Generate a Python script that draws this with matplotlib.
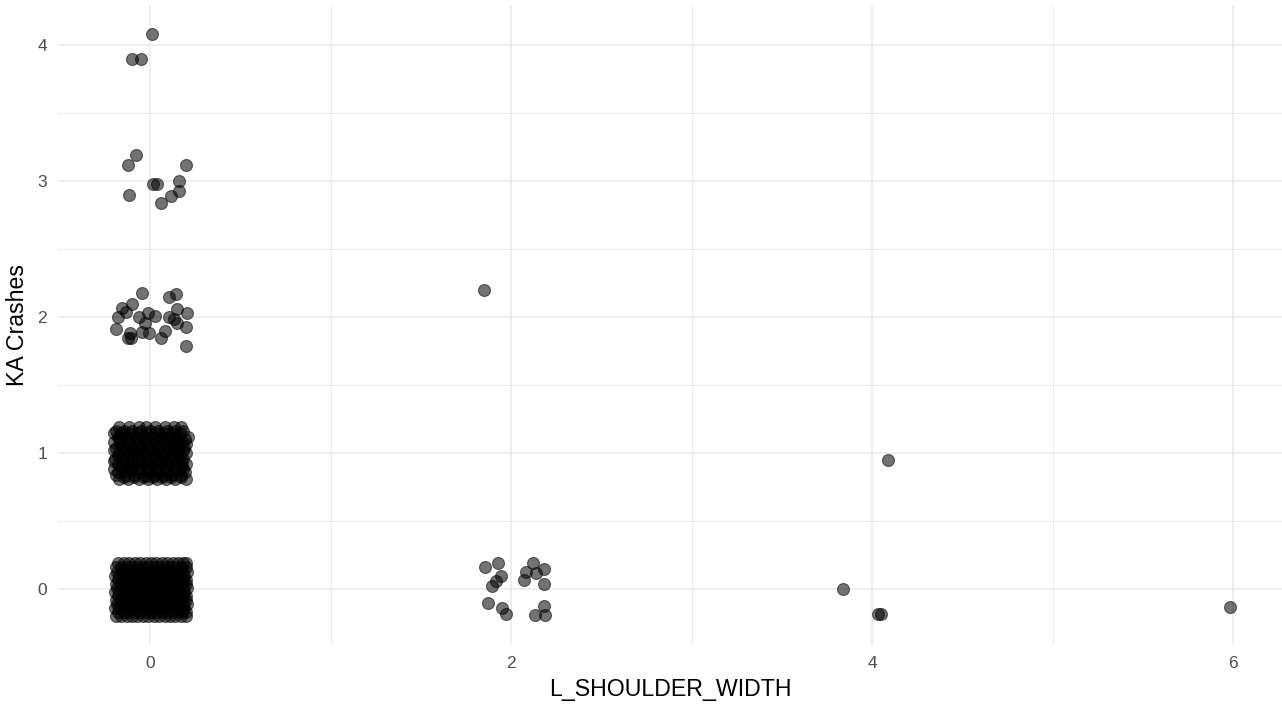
import matplotlib.pyplot as plt
from matplotlib.ticker import MultipleLocator

plt.rcParams['font.family'] = ['Liberation Sans', 'DejaVu Sans']

# jittered points (x = L_SHOULDER_WIDTH, y = KA crashes)
# dense block at x=0, y=0 : one row per y value
zero_rows = [
    (-0.195, [-0.19, -0.16, -0.13, -0.10, -0.07, -0.04, -0.01, 0.02, 0.05, 0.08, 0.11, 0.14, 0.17, 0.20]),
    (-0.17, [-0.18, -0.145, -0.115, -0.085, -0.055, -0.025, 0.005, 0.035, 0.065, 0.095, 0.125, 0.155, 0.185, 0.20]),
    (-0.14, [-0.195, -0.17, -0.14, -0.105, -0.075, -0.045, -0.015, 0.015, 0.04, 0.07, 0.10, 0.13, 0.16, 0.19]),
    (-0.11, [-0.185, -0.15, -0.12, -0.09, -0.06, -0.03, 0.0, 0.03, 0.06, 0.09, 0.12, 0.15, 0.18, 0.205]),
    (-0.08, [-0.19, -0.16, -0.13, -0.10, -0.07, -0.04, -0.01, 0.02, 0.05, 0.08, 0.11, 0.14, 0.17, 0.20]),
    (-0.05, [-0.18, -0.145, -0.115, -0.085, -0.055, -0.025, 0.005, 0.035, 0.065, 0.095, 0.125, 0.155, 0.185, 0.20]),
    (-0.02, [-0.195, -0.17, -0.14, -0.105, -0.075, -0.045, -0.015, 0.015, 0.04, 0.07, 0.10, 0.13, 0.16, 0.19]),
    (0.01, [-0.185, -0.15, -0.12, -0.09, -0.06, -0.03, 0.0, 0.03, 0.06, 0.09, 0.12, 0.15, 0.18, 0.205]),
    (0.04, [-0.19, -0.16, -0.13, -0.10, -0.07, -0.04, -0.01, 0.02, 0.05, 0.08, 0.11, 0.14, 0.17, 0.20]),
    (0.07, [-0.18, -0.145, -0.115, -0.085, -0.055, -0.025, 0.005, 0.035, 0.065, 0.095, 0.125, 0.155, 0.185, 0.20]),
    (0.10, [-0.195, -0.17, -0.14, -0.105, -0.075, -0.045, -0.015, 0.015, 0.04, 0.07, 0.10, 0.13, 0.16, 0.19]),
    (0.13, [-0.185, -0.15, -0.12, -0.09, -0.06, -0.03, 0.0, 0.03, 0.06, 0.09, 0.12, 0.15, 0.18, 0.205]),
    (0.16, [-0.19, -0.16, -0.13, -0.10, -0.07, -0.04, -0.01, 0.02, 0.05, 0.08, 0.11, 0.14, 0.17, 0.20]),
    (0.19, [-0.18, -0.145, -0.115, -0.085, -0.055, -0.025, 0.005, 0.035, 0.065, 0.095, 0.125, 0.155, 0.185, 0.20]),
]

# block at x=0, y=1
one_rows = [
    (0.81, [-0.17, -0.12, -0.06, -0.01, 0.04, 0.09, 0.14, 0.20]),
    (0.825, [-0.145, -0.09, -0.035, 0.015, 0.065, 0.115, 0.17]),
    (0.84, [-0.19, -0.14, -0.09, -0.03, 0.02, 0.07, 0.12, 0.17]),
    (0.865, [-0.175, -0.12, -0.065, -0.005, 0.045, 0.095, 0.145, 0.195]),
    (0.88, [-0.20, -0.155, -0.11, -0.06, -0.015, 0.03, 0.08, 0.13, 0.18]),
    (0.905, [-0.16, -0.105, -0.06, -0.01, 0.035, 0.075, 0.125, 0.175]),
    (0.92, [-0.18, -0.13, -0.085, -0.04, 0.01, 0.055, 0.10, 0.15, 0.20]),
    (0.945, [-0.2, -0.155, -0.11, -0.065, -0.015, 0.03, 0.08, 0.12, 0.17]),
    (0.96, [-0.195, -0.15, -0.10, -0.05, 0.0, 0.05, 0.095, 0.14, 0.185]),
    (0.985, [-0.175, -0.125, -0.075, -0.025, 0.025, 0.07, 0.12, 0.165]),
    (1.00, [-0.17, -0.125, -0.075, -0.03, 0.02, 0.065, 0.115, 0.16, 0.20]),
    (1.025, [-0.2, -0.15, -0.1, -0.055, -0.01, 0.04, 0.085, 0.135, 0.18]),
    (1.04, [-0.19, -0.14, -0.095, -0.045, 0.005, 0.05, 0.10, 0.145, 0.19]),
    (1.065, [-0.165, -0.12, -0.07, -0.025, 0.025, 0.07, 0.12, 0.16, 0.2]),
    (1.08, [-0.20, -0.16, -0.11, -0.06, -0.01, 0.035, 0.085, 0.13, 0.175]),
    (1.105, [-0.17, -0.125, -0.08, -0.035, 0.015, 0.06, 0.105, 0.15, 0.195]),
    (1.12, [-0.18, -0.135, -0.085, -0.035, 0.015, 0.06, 0.11, 0.155, 0.21]),
    (1.145, [-0.2, -0.16, -0.115, -0.065, -0.02, 0.025, 0.075, 0.12, 0.165]),
    (1.16, [-0.19, -0.145, -0.10, -0.05, 0.0, 0.045, 0.095, 0.14, 0.185]),
    (1.19, [-0.17, -0.115, -0.06, -0.02, 0.03, 0.08, 0.13, 0.17]),
]

# sparse points
sparse_x = [
    # y ~ 2 at x=0
    -0.044, 0.105, 0.144, -0.10, -0.155, -0.133, -0.18, 0.15, -0.06, -0.01, 0.03, -0.03,
    0.105, 0.13, 0.15, 0.205, -0.19, -0.11, -0.12, -0.105, -0.044, -0.006, 0.06, 0.08, 0.20, 0.20,
    # y ~ 3 and 4 at x=0
    0.01, -0.10, -0.05, -0.08, -0.12, 0.20, 0.017, 0.039, 0.16, -0.116, 0.16, 0.116, 0.06,
    # x ~ 2
    1.85, 1.856, 1.93, 1.945, 1.917, 1.895, 1.87, 1.95, 1.97, 2.12, 2.08, 2.07, 2.14, 2.18,
    2.18, 2.18, 2.13, 2.19,
    # x ~ 4 and 6
    4.09, 3.84, 4.03, 4.05, 5.98,
]
sparse_y = [
    2.18, 2.15, 2.17, 2.10, 2.07, 2.04, 2.00, 2.06, 2.00, 2.03, 2.01, 1.96,
    2.00, 1.985, 1.96, 2.03, 1.91, 1.88, 1.85, 1.845, 1.89, 1.88, 1.85, 1.90, 1.93, 1.79,
    4.08, 3.90, 3.90, 3.19, 3.12, 3.12, 2.98, 2.98, 3.00, 2.90, 2.93, 2.89, 2.84,
    2.20, 0.16, 0.19, 0.095, 0.06, 0.02, -0.10, -0.14, -0.18, 0.19, 0.125, 0.07, 0.12, 0.15,
    0.04, -0.12, -0.19, -0.19,
    0.95, 0.0, -0.18, -0.18, -0.13,
]

xs, ys = [], []
for y, row in zero_rows + one_rows:
    xs += row
    ys += [y] * len(row)
xs += sparse_x
ys += sparse_y

fig = plt.figure(figsize=(12.82, 7.12), dpi=100)
ax = fig.add_axes([58 / 1282, 67 / 712, 1224 / 1282, 640 / 712])

ax.scatter(xs, ys, s=74, color='black', alpha=0.55, edgecolors='black', linewidths=0.8, zorder=3)

ax.set_xlim(-0.51, 6.27)
ax.set_ylim(-0.41, 4.294)
ax.xaxis.set_major_locator(MultipleLocator(2))
ax.xaxis.set_minor_locator(MultipleLocator(1))
ax.yaxis.set_major_locator(MultipleLocator(1))
ax.yaxis.set_minor_locator(MultipleLocator(0.5))

ax.grid(which='major', color='#EBEBEB', linewidth=1.2)
ax.grid(which='minor', color='#EBEBEB', linewidth=0.7)
ax.set_axisbelow(True)
for s in ax.spines.values():
    s.set_visible(False)
ax.tick_params(which='both', length=0)
ax.tick_params(axis='both', labelsize=12.5, labelcolor='#4D4D4D', pad=8)

ax.set_xlabel('L_SHOULDER_WIDTH', fontsize=16.7, color='black')
ax.set_ylabel('KA Crashes', fontsize=16.7, color='black')
ax.xaxis.set_label_coords(0.5, -0.052)
ax.yaxis.set_label_coords(-0.024, 0.5)

fig.savefig('out.png', dpi=100)
